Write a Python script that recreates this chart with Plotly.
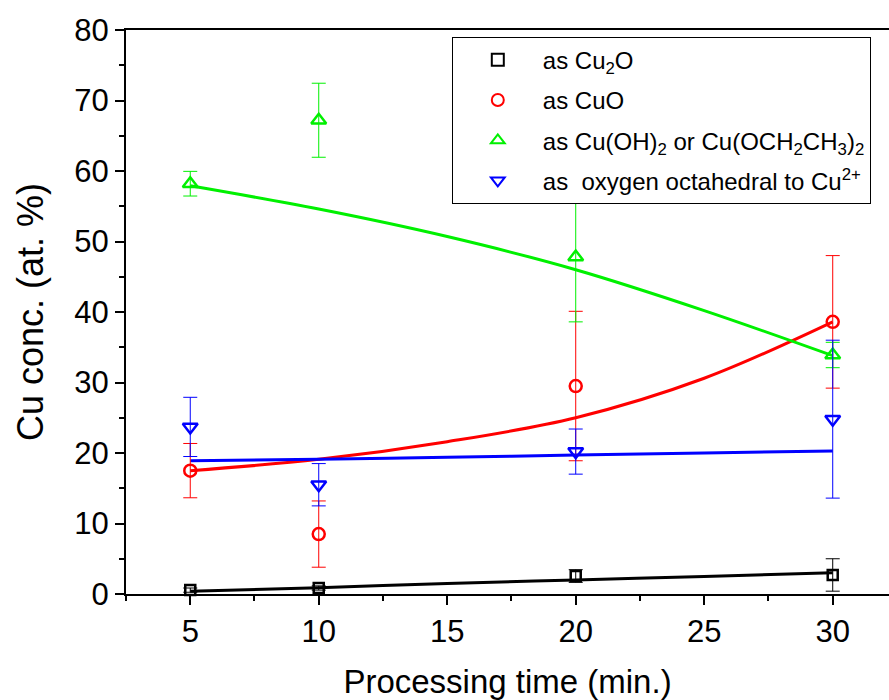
import plotly.graph_objects as go

# ---- data ----
times = [5, 10, 20, 30]

cu2o = [0.55, 0.85, 2.55, 2.7]
cu2o_err = [0.3, 0.3, 0.9, 2.3]

cuo = [17.5, 8.5, 29.5, 38.6]
cuo_err = [3.85, 4.7, 10.6, 9.4]

cuoh = [58.2, 67.2, 47.8, 33.9]
cuoh_err = [1.75, 5.25, 9.2, 1.8]

octa = [23.7, 15.5, 20.2, 24.8]
octa_err = [4.2, 3.0, 3.2, 11.2]

fit_x = [5, 10, 15, 20, 25, 30]
fit_cu2o = [0.4, 0.9, 1.5, 2.0, 2.5, 3.0]
fit_cuo = [17.5, 19.1, 21.6, 25.0, 30.6, 38.6]
fit_cuoh = [57.9, 54.6, 50.7, 46.0, 40.2, 33.8]
fit_octa = [18.9, 19.1, 19.4, 19.7, 20.0, 20.3]

names = [
    "as Cu<sub>2</sub>O",
    "as CuO",
    "as Cu(OH)<sub>2</sub> or Cu(OCH<sub>2</sub>CH<sub>3</sub>)<sub>2</sub>",
    "as  oxygen octahedral to Cu<sup>2+</sup>",
]

FONT = "Liberation Sans Narrow, Arial Narrow, Liberation Sans, Arial, sans-serif"

series = [
    (cu2o, cu2o_err, fit_cu2o, "#000000", "square-open", 10),
    (cuo, cuo_err, fit_cuo, "#ff0000", "circle-open", 12),
    (cuoh, cuoh_err, fit_cuoh, "#00f000", "triangle-up-open", 13),
    (octa, octa_err, fit_octa, "#0000ff", "triangle-down-open", 13),
]

fig = go.Figure()

# fit curves first (behind markers)
for vals, err, fit, col, sym, sz in series:
    fig.add_trace(go.Scatter(
        x=fit_x, y=fit, mode="lines", line=dict(color=col, width=3, shape="spline"),
        showlegend=False, hoverinfo="skip", cliponaxis=False,
    ))

for i, ((vals, err, fit, col, sym, sz), name) in enumerate(zip(series, names)):
    fig.add_trace(go.Scatter(
        x=times, y=vals, mode="markers", name=name, legendgroup=f"g{i}",
        marker=dict(symbol=sym, size=sz, color=col, line=dict(color=col, width=2.5)),
        error_y=dict(type="data", array=err, visible=True, color=col, thickness=1, width=7),
        cliponaxis=False,
    ))

fig.update_layout(
    width=889, height=700,
    margin=dict(l=126, r=0, t=30, b=106),
    paper_bgcolor="white", plot_bgcolor="white",
    font=dict(family=FONT, color="black"),
    showlegend=True,
    legend=dict(
        x=0.427, y=0.988, xanchor="left", yanchor="top",
        bordercolor="black", borderwidth=1, bgcolor="white",
        font=dict(family=FONT, size=24),
        itemsizing="constant", itemwidth=80, tracegroupgap=6,
        traceorder="grouped",
    ),
    xaxis=dict(
        range=[2.5, 32.19], tickmode="array", tickvals=[5, 10, 15, 20, 25, 30],
        ticks="outside", ticklen=9, tickwidth=2, tickcolor="black",
        showline=True, linewidth=2, linecolor="black", mirror=True,
        showgrid=False, zeroline=False,
        tickfont=dict(size=31),
        minor=dict(tickvals=[2.5, 7.5, 12.5, 17.5, 22.5, 27.5], ticks="outside", ticklen=5, tickwidth=2, tickcolor="black"),
        title=dict(text="Processing time (min.)", font=dict(size=33), standoff=22),
    ),
    yaxis=dict(
        range=[0, 80], tickmode="array", tickvals=[0, 10, 20, 30, 40, 50, 60, 70, 80],
        ticks="outside", ticklen=9, tickwidth=2, tickcolor="black",
        showline=True, linewidth=2, linecolor="black",
        showgrid=False, zeroline=False,
        tickfont=dict(size=31),
        minor=dict(tickvals=[5, 15, 25, 35, 45, 55, 65, 75], ticks="outside", ticklen=5, tickwidth=2, tickcolor="black"),
        title=dict(text="Cu conc. (at. %)", font=dict(size=36), standoff=20),
    ),
)

fig.write_html("out.html")
